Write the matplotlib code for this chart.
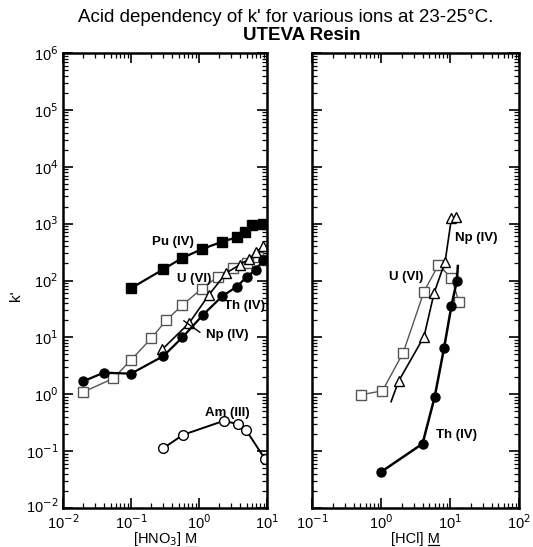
import matplotlib
matplotlib.use("Agg")
import matplotlib.pyplot as plt
from matplotlib.lines import Line2D
import matplotlib.transforms as mtransforms
import numpy as np

plt.rcParams['font.family'] = ['Liberation Sans', 'DejaVu Sans']

# ---------------- data: HNO3 panel ----------------
pu_hno3_x = [0.1, 0.3, 0.57, 1.1, 2.2, 3.6, 4.7, 6.0, 8.8]
pu_hno3_y = [73, 158, 250, 355, 483, 575, 724, 950, 970]

u_hno3_x = [0.02, 0.055, 0.1, 0.2, 0.33, 0.57, 1.1, 1.9, 3.2, 5.0, 7.4, 9.3]
u_hno3_y = [1.1, 1.9, 4.0, 9.7, 20, 37, 72, 117, 164, 200, 263, 230]

th_hno3_x = [0.02, 0.04, 0.1, 0.3, 0.57, 1.15, 2.2, 3.6, 5.0, 6.8, 8.8]
th_hno3_y = [1.7, 2.4, 2.3, 4.7, 10, 25, 53, 78, 115, 155, 225]

np_hno3_x = [0.29, 0.72, 1.4, 2.5, 4.0, 5.5, 7.0, 8.8]
np_hno3_y = [6.2, 18, 56, 135, 190, 240, 320, 400]

am_hno3_x = [0.3, 0.58, 2.3, 3.7, 4.9, 9.3]
am_hno3_y = [0.113, 0.193, 0.34, 0.30, 0.237, 0.073]

# ---------------- data: HCl panel ----------------
th_hcl_x = [1.0, 4.0, 6.0, 8.2, 10.5, 12.6, 13.0]
th_hcl_y = [0.043, 0.135, 0.9, 6.5, 36, 100, 180]

u_hcl_x = [0.52, 1.05, 2.1, 4.2, 6.8, 10.5, 13.5]
u_hcl_y = [0.98, 1.15, 5.4, 64, 188, 111, 42]

np_hcl_x = [1.4, 1.8, 4.2, 5.9, 8.5, 10.5, 12.3]
np_hcl_y = [0.74, 1.7, 10.3, 61, 215, 1250, 1300]

xticks_left = [1e-2, 1e-1, 1e0, 1e1]
xticklabels_left = ['10$^{-2}$', '10$^{-1}$', '10$^{0}$', '10$^{1}$']
xticks_right = [1e-1, 1e0, 1e1, 1e2]
xticklabels_right = ['10$^{-1}$', '10$^{0}$', '10$^{1}$', '10$^{2}$']
yticks = [1e-2, 1e-1, 1e0, 1e1, 1e2, 1e3, 1e4, 1e5, 1e6]
yticklabels = ['10$^{-2}$', '10$^{-1}$', '10$^{0}$', '10$^{1}$', '10$^{2}$',
               '10$^{3}$', '10$^{4}$', '10$^{5}$', '10$^{6}$']

W, H = 533, 547
fig = plt.figure(figsize=(W / 100, H / 100), dpi=100)

axL = fig.add_axes([63 / W, 1 - 508 / H, 204 / W, 455 / H])
axR = fig.add_axes([312 / W, 1 - 508 / H, 207 / W, 455 / H])

blk = 'black'
gry = '#555555'
ms = 6.5
tfs = 10.5

def style(ax, xlim, xt, xtl, ylab):
    ax.set_xscale('log')
    ax.set_yscale('log')
    ax.set_xlim(*xlim)
    ax.set_ylim(1e-2, 1e6)
    ax.set_xticks(xt)
    ax.set_xticklabels(xtl, fontsize=tfs)
    ax.set_yticks(yticks)
    if ylab:
        ax.set_yticklabels(yticklabels, fontsize=tfs)
    else:
        ax.set_yticklabels([])
    ax.tick_params(which='both', direction='in', top=True, right=True)
    ax.tick_params(which='major', length=7, width=1.2)
    ax.tick_params(which='minor', length=3.5, width=0.9)
    ax.tick_params(axis='x', which='major', pad=4)
    for s in ax.spines.values():
        s.set_linewidth(1.8)

# Left panel
axL.plot(pu_hno3_x, pu_hno3_y, '-', color=blk, lw=1.6, marker='s', ms=ms,
         mfc=blk, mec=blk)
axL.plot(u_hno3_x, u_hno3_y, '-', color=gry, lw=1.0, marker='s', ms=ms,
         mfc='white', mec=gry)
axL.plot(np_hno3_x, np_hno3_y, '-', color=blk, lw=1.2, marker='^', ms=ms + 1,
         mfc='white', mec=blk)
axL.plot(th_hno3_x, th_hno3_y, '-', color=blk, lw=1.6, marker='o', ms=ms,
         mfc=blk, mec=blk)
axL.plot(am_hno3_x, am_hno3_y, '-', color=blk, lw=1.4, marker='o', ms=ms + 0.5,
         mfc='white', mec=blk)

fs = 9.5
axL.text(0.42, 470, 'Pu (IV)', fontsize=fs, fontweight='bold', ha='center', va='center')
axL.text(0.84, 105, 'U (VI)', fontsize=fs, fontweight='bold', ha='center', va='center')
axL.text(4.6, 36, 'Th (IV)', fontsize=fs, fontweight='bold', ha='center', va='center')
axL.text(2.6, 11, 'Np (IV)', fontsize=fs, fontweight='bold', ha='center', va='center')
axL.plot([0.6, 1.03], [19.5, 12.3], '-', color=blk, lw=1.0)
axL.text(2.6, 0.47, 'Am (III)', fontsize=fs, fontweight='bold', ha='center', va='center')

style(axL, (1e-2, 1e1), xticks_left, xticklabels_left, True)

# nudge the lowest y tick label up a little so it clears the x tick label
lbl0 = axL.get_yticklabels()[0]
lbl0.set_transform(lbl0.get_transform() +
                   mtransforms.ScaledTranslation(0, 3 / 100, fig.dpi_scale_trans))

# Right panel
axR.plot(u_hcl_x, u_hcl_y, '-', color=gry, lw=1.0, marker='s', ms=ms,
         mfc='white', mec=gry)
axR.plot(np_hcl_x, np_hcl_y, '-', color=blk, lw=1.2, marker='^', ms=ms + 1,
         mfc='white', mec=blk, markevery=list(range(1, len(np_hcl_x))))
axR.plot(th_hcl_x, th_hcl_y, '-', color=blk, lw=1.8, marker='o', ms=ms,
         mfc=blk, mec=blk, markevery=list(range(0, len(th_hcl_x) - 1)))

axR.text(24, 560, 'Np (IV)', fontsize=fs, fontweight='bold', ha='center', va='center')
axR.text(2.3, 117, 'U (VI)', fontsize=fs, fontweight='bold', ha='center', va='center')
axR.text(12.6, 0.19, 'Th (IV)', fontsize=fs, fontweight='bold', ha='center', va='center')

style(axR, (1e-1, 1e2), xticks_right, xticklabels_right, False)

# axis labels placed in figure coordinates, with underlined "M"
fig.canvas.draw()
renderer = fig.canvas.get_renderer()

def underlined_label(xc, yc, text):
    t = fig.text(xc / W, 1 - yc / H, text + ' M', fontsize=10.5, ha='center',
                 va='center')
    bb = t.get_window_extent(renderer)
    tm = fig.text(0, 0, 'M', fontsize=10.5)
    mw = tm.get_window_extent(renderer).width
    tm.remove()
    x1 = bb.x1 - 0.5
    x0 = x1 - mw + 1
    yline = bb.y0 + 1.5
    fig.add_artist(Line2D([x0 / W, x1 / W], [yline / H, yline / H],
                          transform=fig.transFigure, color='black', lw=0.9))

underlined_label(165, 539, '[HNO$_3$]')
underlined_label(415, 539, '[HCl]')
fig.text(16 / W, 1 - 296 / H, "k'", fontsize=11, ha='center', va='center', rotation=90)

fig.text(286 / W, 1 - 18 / H, "Acid dependency of k' for various ions at 23-25\u00b0C.",
         fontsize=13.5, ha='center', va='center')
fig.text(302 / W, 1 - 35 / H, 'UTEVA Resin', fontsize=13.5, fontweight='bold',
         ha='center', va='center')

fig.savefig('out.png', dpi=100)
